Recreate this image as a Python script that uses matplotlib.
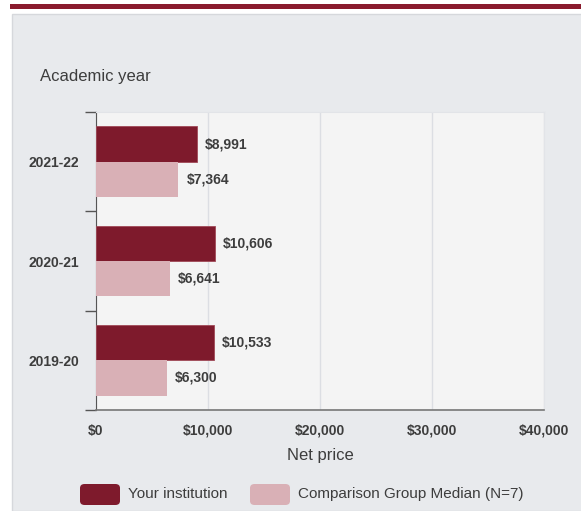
import numpy as np
import matplotlib
matplotlib.use('Agg')
import matplotlib.pyplot as plt
from matplotlib.patches import Rectangle, FancyBboxPatch
from matplotlib.ticker import FuncFormatter

plt.rcParams['font.family'] = ['Liberation Sans', 'DejaVu Sans']

years = ['2019-20', '2020-21', '2021-22']
your_inst = [10533, 10606, 8991]
comparison = [6300, 6641, 7364]
series_names = ['Your institution', 'Comparison Group Median (N=7)']

dark = '#7e1a2c'
light = '#d9b0b6'
text_col = '#3d3d3d'

fig = plt.figure(figsize=(5.81, 5.11), dpi=100)
W, H = 581, 511

# panel background and top rule
fig.patches.append(Rectangle((12 / W, 0), 1, 1 - 14 / H, transform=fig.transFigure,
                             facecolor='#e8eaed', edgecolor='#d6d8dc', lw=1, zorder=-10))
fig.patches.append(Rectangle((10 / W, 1 - 9 / H), 1, 5 / H, transform=fig.transFigure,
                             facecolor='#8a1b2e', edgecolor='none', zorder=-5))

ax = fig.add_axes([96 / W, 1 - 410 / H, 448 / W, 298 / H])
ax.set_zorder(5)
ax.set_facecolor('#f4f4f4')

y = np.arange(len(years))
h = 0.355
ax.barh(y + h / 2, your_inst, height=h, color=dark, edgecolor='#a14a58', lw=0.6, zorder=3)
ax.barh(y - h / 2, comparison, height=h, color=light, zorder=3)

for yi, v in zip(y, your_inst):
    ax.text(v + 700, yi + h / 2, '${:,}'.format(v), va='center', ha='left',
            fontsize=10, fontweight='bold', color=text_col)
for yi, v in zip(y, comparison):
    ax.text(v + 700, yi - h / 2, '${:,}'.format(v), va='center', ha='left',
            fontsize=10, fontweight='bold', color=text_col)

ax.set_xlim(0, 40000)
ax.set_ylim(-0.5, 2.5)
ax.set_xticks([0, 10000, 20000, 30000, 40000])
ax.xaxis.set_major_formatter(FuncFormatter(lambda v, p: '${:,.0f}'.format(v)))
ax.set_yticks(y)
ax.set_yticklabels(years)
ax.set_yticks([-0.5, 0.5, 1.5, 2.5], minor=True)
ax.tick_params(axis='y', which='major', length=0, pad=12)
ax.tick_params(axis='y', which='minor', length=8, color='#555555', width=1)
ax.tick_params(axis='x', length=0, pad=10)
for lab in ax.get_xticklabels() + ax.get_yticklabels():
    lab.set_fontweight('bold')
    lab.set_fontsize(10)
    lab.set_color(text_col)

ax.grid(axis='x', color='#dcdee3', lw=1, zorder=0)
ax.set_axisbelow(True)
for s in ['top', 'right']:
    ax.spines[s].set_color('#e2e4e8')
ax.spines['left'].set_color('#555555')
ax.spines['bottom'].set_color('#777777')
ax.spines['bottom'].set_linewidth(1.2)

ax.set_xlabel('Net price', fontsize=12, color=text_col, labelpad=7)
fig.text(40 / W, 1 - 76 / H, 'Academic year', fontsize=12, color=text_col, va='center')

# legend
colors = [dark, light]
lx = [80, 250]
for x0, c, name in zip(lx, colors, series_names):
    fig.patches.append(FancyBboxPatch((x0 / W, 1 - 505 / H), 40 / W, 21 / H,
                                      boxstyle='round,pad=0,rounding_size=0.008',
                                      transform=fig.transFigure, facecolor=c,
                                      edgecolor='none'))
    fig.text((x0 + 48) / W, 1 - 494 / H, name, fontsize=11, color=text_col, va='center')

fig.savefig('out.png', dpi=100)
